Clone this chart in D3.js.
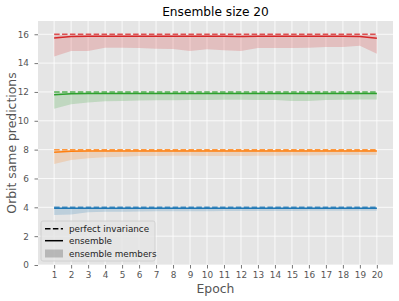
<!DOCTYPE html>
<html>
<head>
<meta charset="utf-8">
<script src="https://cdn.jsdelivr.net/npm/d3@7"></script>
<style>
  body { margin: 0; background: #fff; }
  text { font-family: "DejaVu Sans", sans-serif; }
</style>
</head>
<body>
<div id="chart"></div>
<script>
// Data
const epochs = [1, 2, 3, 4, 5, 6, 7, 8, 9, 10, 11, 12, 13, 14, 15, 16, 17, 18, 19, 20];
const yTicks = [0, 2, 4, 6, 8, 10, 12, 14, 16];

// perfect invariance level per group
const perfect = [4, 8, 12, 16];
const colors = ['#1f77b4', '#ff7f0e', '#2ca02c', '#d62728'];

// ensemble prediction (solid lines)
const ensBlue   = [3.93, 3.94, 3.94, 3.94, 3.94, 3.94, 3.94, 3.94, 3.94, 3.94, 3.94, 3.94, 3.94, 3.94, 3.94, 3.94, 3.94, 3.94, 3.94, 3.94];
const ensOrange = [7.82, 7.88, 7.9, 7.9, 7.9, 7.91, 7.91, 7.91, 7.91, 7.91, 7.91, 7.91, 7.91, 7.91, 7.91, 7.91, 7.91, 7.91, 7.91, 7.91];
const ensGreen  = [11.81, 11.87, 11.89, 11.89, 11.9, 11.9, 11.9, 11.9, 11.9, 11.9, 11.9, 11.9, 11.9, 11.9, 11.89, 11.89, 11.9, 11.9, 11.9, 11.9];
const ensRed    = [15.74, 15.84, 15.86, 15.86, 15.86, 15.86, 15.86, 15.86, 15.86, 15.86, 15.86, 15.85, 15.87, 15.86, 15.86, 15.86, 15.86, 15.86, 15.84, 15.72];

// ensemble members range (shaded band)
const minBlue   = [3.47, 3.51, 3.65, 3.7, 3.7, 3.71, 3.72, 3.72, 3.73, 3.73, 3.74, 3.74, 3.74, 3.75, 3.75, 3.76, 3.76, 3.76, 3.77, 3.77];
const maxBlue   = [3.97, 3.98, 3.98, 3.98, 3.98, 3.98, 3.98, 3.98, 3.98, 3.98, 3.98, 3.98, 3.98, 3.98, 3.98, 3.98, 3.98, 3.98, 3.98, 3.98];
const minOrange = [7.0, 7.28, 7.4, 7.47, 7.51, 7.55, 7.56, 7.57, 7.57, 7.56, 7.56, 7.56, 7.57, 7.58, 7.59, 7.6, 7.61, 7.62, 7.63, 7.63];
const maxOrange = [7.96, 7.97, 7.97, 7.97, 7.97, 7.97, 7.97, 7.97, 7.97, 7.97, 7.97, 7.97, 7.97, 7.97, 7.97, 7.97, 7.97, 7.97, 7.97, 7.97];
const minGreen  = [10.84, 11.14, 11.26, 11.35, 11.38, 11.4, 11.42, 11.43, 11.44, 11.45, 11.46, 11.46, 11.45, 11.44, 11.38, 11.37, 11.44, 11.46, 11.47, 11.47];
const maxGreen  = [11.96, 11.97, 11.97, 11.97, 11.97, 11.97, 11.97, 11.97, 11.97, 11.97, 11.97, 11.97, 11.97, 11.97, 11.97, 11.97, 11.97, 11.97, 11.97, 11.97];
const minRed    = [14.45, 14.84, 14.84, 15.07, 15.07, 15.05, 15.0, 14.98, 14.84, 14.96, 14.89, 14.84, 15.05, 15.05, 15.05, 15.07, 15.12, 15.12, 15.21, 14.65];
const maxRed    = [15.96, 15.97, 15.97, 15.97, 15.97, 15.97, 15.97, 15.97, 15.97, 15.97, 15.97, 15.97, 15.97, 15.97, 15.97, 15.97, 15.97, 15.97, 15.97, 15.95];

const ensembles = [ensBlue, ensOrange, ensGreen, ensRed];
const mins = [minBlue, minOrange, minGreen, minRed];
const maxs = [maxBlue, maxOrange, maxGreen, maxRed];

const width = 399, height = 301;
const plot = { left: 38, right: 393, top: 21, bottom: 265 };
const tickColor = '#555555';

let svg = d3.select('#chart').append('svg')
    .attr('width', width)
    .attr('height', height);

let xScale = d3.scaleLinear()
    .domain([0.05, 20.95])
    .range([plot.left, plot.right]);

let yScale = d3.scaleLinear()
    .domain([0, 16.92])
    .range([plot.bottom, plot.top]);

// Plot background
svg.append('rect')
    .attr('x', plot.left)
    .attr('y', plot.top)
    .attr('width', plot.right - plot.left)
    .attr('height', plot.bottom - plot.top)
    .attr('fill', '#e5e5e5');

// Grid lines
let grid = svg.append('g').attr('id', 'grid');
grid.selectAll('line.gx')
    .data(epochs)
    .enter()
    .append('line')
    .attr('x1', d => xScale(d)).attr('x2', d => xScale(d))
    .attr('y1', plot.top).attr('y2', plot.bottom)
    .attr('stroke', '#fff').attr('stroke-width', 0.8);
grid.selectAll('line.gy')
    .data(yTicks)
    .enter()
    .append('line')
    .attr('y1', d => yScale(d)).attr('y2', d => yScale(d))
    .attr('x1', plot.left).attr('x2', plot.right)
    .attr('stroke', '#fff').attr('stroke-width', 0.8);

// Axes
let xAxis = svg.append('g')
    .attr('transform', `translate(0,${plot.bottom})`)
    .call(d3.axisBottom(xScale).tickValues(epochs).tickFormat(d3.format('d')).tickSize(3.5).tickPadding(3.5));
let yAxis = svg.append('g')
    .attr('transform', `translate(${plot.left},0)`)
    .call(d3.axisLeft(yScale).tickValues(yTicks).tickSize(3.5).tickPadding(5.5));

[xAxis, yAxis].forEach(ax => {
    ax.select('.domain').remove();
    ax.selectAll('line').attr('stroke', tickColor).attr('stroke-width', 0.8);
    ax.selectAll('text')
        .attr('fill', tickColor)
        .style('font-size', '8.9px')
        .style('font-family', '"DejaVu Sans", sans-serif');
});

// Bands, perfect lines, ensemble lines
let area = d3.area()
    .x((d, i) => xScale(epochs[i]))
    .y0(d => yScale(d[0]))
    .y1(d => yScale(d[1]));
let line = d3.line()
    .x((d, i) => xScale(epochs[i]))
    .y(d => yScale(d));

let series = svg.append('g').attr('id', 'series');
colors.forEach((c, k) => {
    let band = mins[k].map((v, i) => [v, maxs[k][i]]);
    series.append('path')
        .attr('d', area(band))
        .attr('fill', c)
        .attr('fill-opacity', 0.2);
});
colors.forEach((c, k) => {
    series.append('path')
        .attr('d', line(epochs.map(() => perfect[k])))
        .attr('fill', 'none')
        .attr('stroke', c)
        .attr('stroke-opacity', 0.8)
        .attr('stroke-width', 1.5)
        .attr('stroke-dasharray', '5.5,2.4');
    series.append('path')
        .attr('d', line(ensembles[k]))
        .attr('fill', 'none')
        .attr('stroke', c)
        .attr('stroke-width', 1.5);
});

// Titles
svg.append('text')
    .attr('x', (plot.left + plot.right) / 2)
    .attr('y', 16)
    .attr('text-anchor', 'middle')
    .style('font-size', '12.2px')
    .attr('fill', '#000')
    .text('Ensemble size 20');

svg.append('text')
    .attr('x', (plot.left + plot.right) / 2)
    .attr('y', 293)
    .attr('text-anchor', 'middle')
    .style('font-size', '12.4px')
    .attr('fill', tickColor)
    .text('Epoch');

svg.append('text')
    .attr('transform', `translate(11.5,${(plot.top + plot.bottom) / 2}) rotate(-90)`)
    .attr('text-anchor', 'middle')
    .attr('dy', '0.35em')
    .style('font-size', '12.4px')
    .attr('fill', tickColor)
    .text('Orbit same predictions');

// Legend
let legend = svg.append('g').attr('id', 'legend');
legend.append('rect')
    .attr('x', 41).attr('y', 221)
    .attr('width', 114).attr('height', 40)
    .attr('rx', 2)
    .attr('fill', '#e5e5e5')
    .attr('fill-opacity', 0.8)
    .attr('stroke', '#cccccc')
    .attr('stroke-width', 0.8);
let legendItems = [
    { label: 'perfect invariance', type: 'dash', y: 228.7 },
    { label: 'ensemble', type: 'solid', y: 240.7 },
    { label: 'ensemble members', type: 'patch', y: 253.5 }
];
legendItems.forEach(d => {
    if (d.type === 'patch') {
        legend.append('rect')
            .attr('x', 45).attr('y', d.y - 4)
            .attr('width', 18).attr('height', 8)
            .attr('fill', '#000').attr('fill-opacity', 0.2);
    } else {
        legend.append('line')
            .attr('x1', 45).attr('x2', 63)
            .attr('y1', d.y).attr('y2', d.y)
            .attr('stroke', '#000')
            .attr('stroke-width', 1.5)
            .attr('stroke-dasharray', d.type === 'dash' ? '5.5,2.4' : null);
    }
    legend.append('text')
        .attr('x', 69).attr('y', d.y)
        .attr('dy', '0.35em')
        .style('font-size', '8.8px')
        .attr('fill', '#222')
        .text(d.label);
});
</script>
</body>
</html>
